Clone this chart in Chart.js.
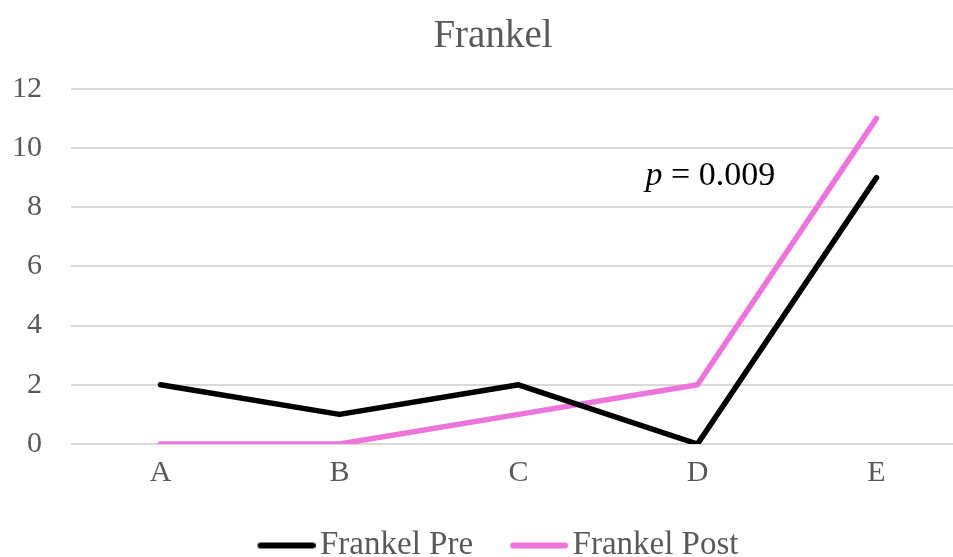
<!DOCTYPE html>
<html>
<head>
<meta charset="utf-8">
<script src="https://cdn.jsdelivr.net/npm/chart.js@4"></script>
<style>
  html, body { margin: 0; padding: 0; background: #fff; overflow: hidden; }
  #wrap { width: 953px; height: 557px; overflow: hidden; }
</style>
</head>
<body>
<div id="wrap"><canvas id="frankelChart" width="980" height="572"></canvas></div>
<script>
const categories = ['A', 'B', 'C', 'D', 'E'];
const preValues = [2, 1, 2, 0, 9];
const postValues = [0, 0, 1, 2, 11];
const yTicks = [0, 2, 4, 6, 8, 10, 12];
const chartTitle = 'Frankel';
const seriesNames = ['Frankel Pre', 'Frankel Post'];
const pLabel = ['p', ' = 0.009'];
const pLabelAt = [3, 8.75];   // category index, y value

const serif = '"Liberation Serif", "Times New Roman", serif';
const grey = '#595959';
const preColor = '#000000';
const postColor = '#ED74DA';

// legend swatch: a short thick line sitting close to the label text
function legendLine(color) {
    const c = document.createElement('canvas');
    c.width = 70;
    c.height = 10;
    const g = c.getContext('2d');
    g.strokeStyle = color;
    g.lineWidth = 6;
    g.lineCap = 'round';
    g.beginPath();
    g.moveTo(15, 5);
    g.lineTo(67, 5);
    g.stroke();
    return c;
}

// text "p = 0.009" beside the last segment
const pValuePlugin = {
    id: 'pValue',
    afterDatasetsDraw(chart) {
        const ctx = chart.ctx;
        const x = chart.scales.x.getPixelForValue(pLabelAt[0]) - 52;
        const y = chart.scales.y.getPixelForValue(pLabelAt[1]);
        ctx.save();
        ctx.fillStyle = '#000';
        ctx.textBaseline = 'alphabetic';
        ctx.textAlign = 'left';
        ctx.font = 'italic 34px ' + serif;
        ctx.fillText(pLabel[0], x, y);
        const w = ctx.measureText(pLabel[0]).width;
        ctx.font = '34px ' + serif;
        ctx.fillText(pLabel[1], x + w, y);
        ctx.restore();
    }
};

// title and legend sit a little right of the canvas centre
const boxShift = {
    id: 'boxShift',
    afterLayout(chart) {
        chart.legend.left += 15;
        chart.legend.right += 15;
        chart.titleBlock.left += 10;
        chart.titleBlock.right += 10;
    }
};

const ctx = document.getElementById('frankelChart').getContext('2d');
const frankelChart = new Chart(ctx, {
    type: 'line',
    data: {
        labels: categories,
        datasets: [
            {
                label: seriesNames[0],
                data: preValues,
                borderColor: preColor,
                backgroundColor: preColor,
                borderWidth: 5.5,
                borderCapStyle: 'round',
                borderJoinStyle: 'round',
                pointRadius: 0,
                pointStyle: legendLine(preColor),
                tension: 0
            },
            {
                label: seriesNames[1],
                data: postValues,
                borderColor: postColor,
                backgroundColor: postColor,
                borderWidth: 5.5,
                borderCapStyle: 'round',
                borderJoinStyle: 'round',
                pointRadius: 0,
                pointStyle: legendLine(postColor),
                tension: 0
            }
        ]
    },
    options: {
        responsive: false,
        animation: false,
        layout: { padding: { left: 0, right: 14, top: 0, bottom: 0 } },
        plugins: {
            title: {
                display: true,
                text: chartTitle,
                color: grey,
                font: { family: serif, size: 39, weight: 'normal' },
                padding: { top: 13, bottom: 29 }
            },
            legend: {
                position: 'bottom',
                labels: {
                    color: grey,
                    font: { family: serif, size: 33 },
                    usePointStyle: true,
                    pointStyleWidth: 46,
                    padding: 37
                }
            },
            tooltip: { enabled: false }
        },
        scales: {
            x: {
                offset: true,
                afterFit(scale) { scale.height = 48; },
                grid: { display: false },
                border: { display: false },
                ticks: {
                    color: grey,
                    font: { family: serif, size: 30 },
                    padding: 3
                }
            },
            y: {
                min: 0,
                max: 12,
                afterFit(scale) { scale.width = 71; },
                afterBuildTicks(scale) { scale.ticks = yTicks.map(v => ({ value: v })); },
                grid: { color: '#D9D9D9', lineWidth: 2, drawTicks: false },
                border: { display: false },
                ticks: {
                    color: grey,
                    font: { family: serif, size: 30 },
                    padding: 29
                }
            }
        }
    },
    plugins: [pValuePlugin, boxShift]
});
</script>
</body>
</html>
